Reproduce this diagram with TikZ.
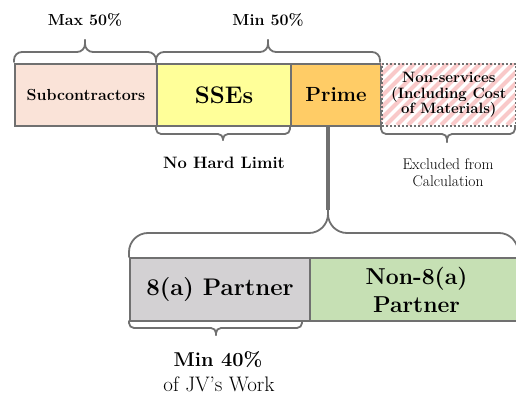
\documentclass[tikz,border=0pt]{standalone}
\usetikzlibrary{calc}
\definecolor{edge}{HTML}{707070}
\definecolor{subc}{HTML}{FAE3D8}
\definecolor{ssec}{HTML}{FFFF99}
\definecolor{primec}{HTML}{FFCC66}
\definecolor{hatchc}{HTML}{F9C9C9}
\definecolor{graybox}{HTML}{D3D1D3}
\definecolor{greenbox}{HTML}{C6E0B4}
\newcommand{\hbrace}[7]{% x1 x2 xm y0 yflat ytip radius
  \draw[brc, rounded corners=#7] (#1,#4) -- (#1,#5) -- (#3,#5) -- (#3,#6);
  \draw[brc, rounded corners=#7] (#2,#4) -- (#2,#5) -- (#3,#5) -- (#3,#6);}
\begin{document}
\begin{tikzpicture}[x=1pt,y=-1pt,
  box/.style={draw=edge, line width=2pt, inner sep=0pt, anchor=north west,
    minimum height=62pt, font=\bfseries, align=center},
  brc/.style={draw=edge, line width=1.8pt, line cap=round},
  lbl/.style={inner sep=0pt, align=center}]
\useasboundingbox (0,0) rectangle (516,396);
% top row
\node[box, fill=subc, minimum width=142pt, font=\bfseries\fontsize{16}{18}\selectfont] (sub) at (14,63) {Subcontractors};
\node[box, fill=ssec, minimum width=134pt, font=\bfseries\fontsize{24}{26}\selectfont] (sse) at (156,63) {SSEs};
\node[box, fill=primec, minimum width=90pt, font=\bfseries\fontsize{20.5}{22}\selectfont] (prime) at (290,63) {Prime};
% hatched non-services box
\begin{scope}
  \clip (381,63) rectangle (515,125);
  \foreach \i in {0,...,20} {
    \draw[hatchc, line width=4pt] ({320+\i*11},125) -- ({382+\i*11},63);
  }
\end{scope}
\node[box, draw=edge, dotted, line width=1.6pt, minimum width=134pt, font=\bfseries\fontsize{15}{15.5}\selectfont] (nons) at (381,63) {Non-services\\(Including Cost\\of Materials)};
% bottom row
\node[box, fill=graybox, minimum width=180pt, minimum height=63pt, font=\bfseries\fontsize{24}{28}\selectfont] (p8a) at (129,257) {8(a) Partner};
\node[box, fill=greenbox, minimum width=213pt, minimum height=63pt, font=\bfseries\fontsize{23}{28}\selectfont] (n8a) at (309,257) {Non-8(a)\\Partner};
% connector
\coordinate (ptop) at (328,126);
\coordinate (bigtip) at (328,210);
\draw[draw=edge, line width=3.5pt] (ptop) -- (bigtip);
% braces
\hbrace{14}{156}{85}{62}{52}{40}{8pt}
\hbrace{156}{380}{268}{62}{52}{40}{8pt}
\hbrace{156}{290}{223}{126}{134}{140}{5pt}
\hbrace{381}{515}{447}{126}{134}{142}{5pt}
\hbrace{129}{518}{328}{257}{233}{210}{19pt}
\hbrace{129}{302}{216}{321}{328}{335}{5pt}
% labels
\node[lbl, font=\bfseries\fontsize{16}{18}\selectfont] (max) at (85,20) {Max 50\%};
\node[lbl, font=\bfseries\fontsize{16}{18}\selectfont] (min) at (268,20) {Min 50\%};
\node[lbl, font=\bfseries\fontsize{16.5}{18}\selectfont] (nohard) at (224,163) {No Hard Limit};
\node[lbl, font=\fontsize{15.5}{17}\selectfont] (excl) at (448,173) {Excluded from\\Calculation};
\node[lbl, font=\bfseries\fontsize{20}{22}\selectfont] (min40) at (218,360) {Min 40\%};
\node[lbl, font=\fontsize{21}{22}\selectfont] (jv) at (219,384) {of JV’s Work};
\end{tikzpicture}
\end{document}
